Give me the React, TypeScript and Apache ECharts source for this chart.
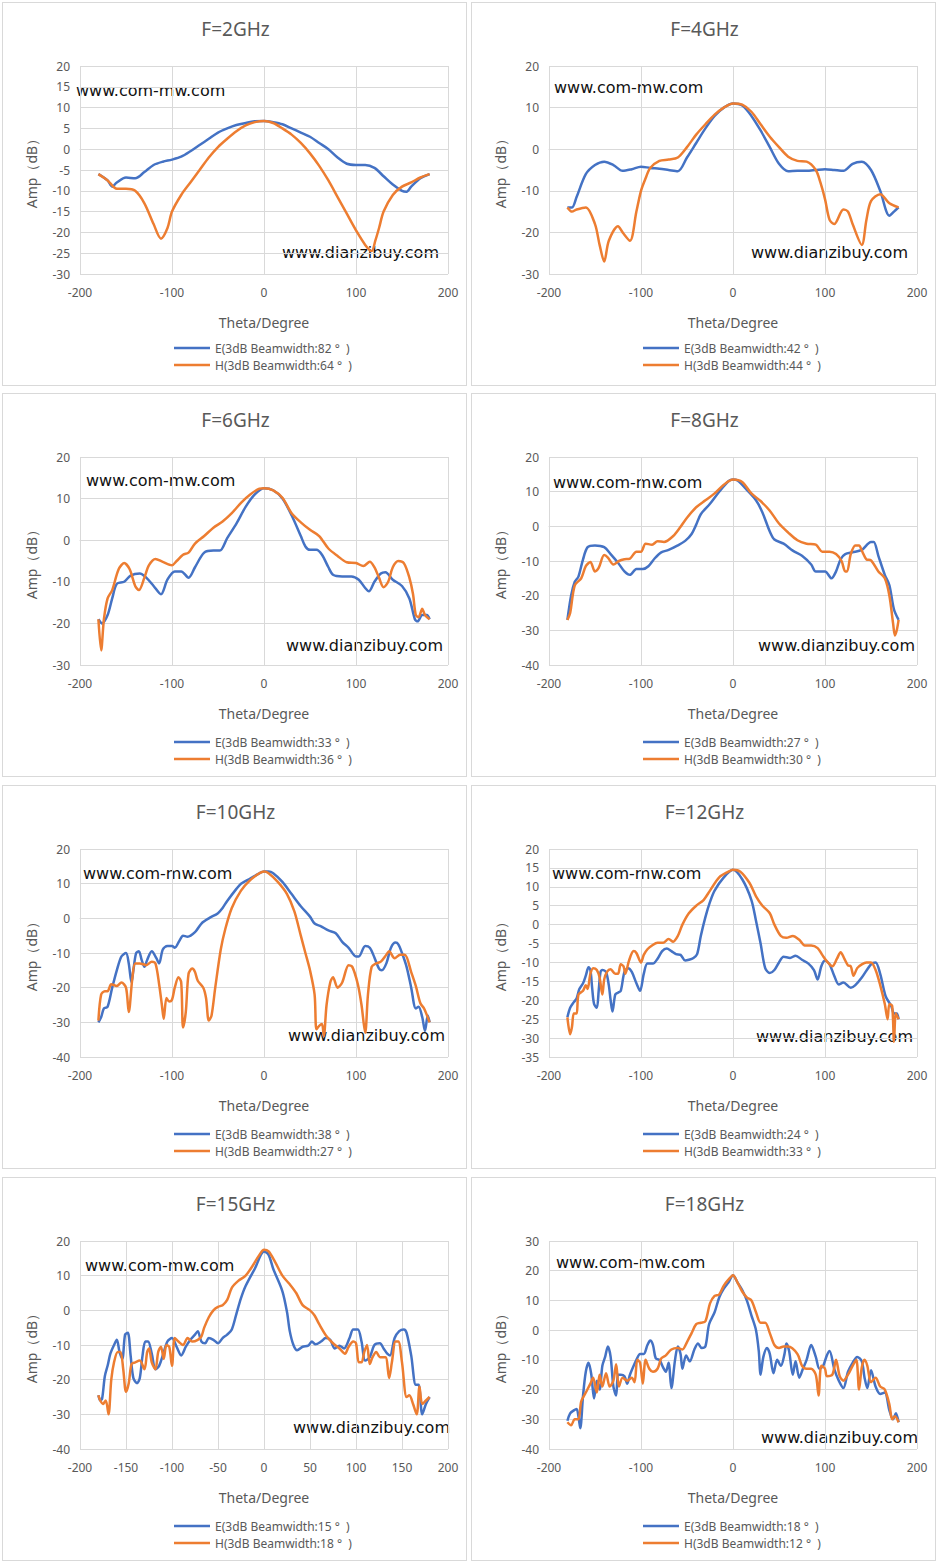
import React, { useEffect, useRef } from 'react';
import * as echarts from 'echarts';

type Pt = [number, number];

const freqs = ['F=2GHz', 'F=4GHz', 'F=6GHz', 'F=8GHz', 'F=10GHz', 'F=12GHz', 'F=15GHz', 'F=18GHz'];
const eWidths = [82, 42, 33, 27, 38, 24, 15, 18];
const hWidths = [64, 44, 36, 30, 27, 33, 18, 12];
const yMins = [-30, -30, -30, -40, -40, -35, -40, -40];
const yMaxs = [20, 20, 20, 20, 20, 20, 20, 30];
const yIntervals = [5, 10, 10, 10, 10, 5, 10, 10];
const xIntervals = [100, 100, 100, 100, 100, 100, 50, 100];

const e2: Pt[] = [[-180,-6],[-170,-7.5],[-165,-9],[-160,-8],[-150,-6.8],[-140,-7],[-130,-5.5],[-120,-3.8],[-110,-3],[-100,-2.5],[-90,-1.8],[-80,-0.5],[-70,1],[-60,2.5],[-50,4],[-40,5],[-30,5.8],[-20,6.3],[-10,6.7],[0,6.8],[10,6.5],[20,6],[30,5],[40,4],[50,3],[60,1.5],[70,0],[80,-2],[90,-3.5],[100,-3.8],[110,-3.8],[120,-4.5],[130,-6.5],[140,-8.5],[150,-10],[155,-10.2],[160,-9],[170,-7],[180,-6]];
const h2: Pt[] = [[-180,-6],[-170,-7.5],[-160,-9.5],[-150,-9.5],[-140,-10],[-130,-13],[-120,-18],[-112,-21.5],[-105,-19],[-100,-15],[-90,-11],[-80,-8],[-70,-5],[-60,-2],[-50,0.5],[-40,2.5],[-30,4.3],[-20,5.7],[-10,6.5],[0,6.8],[10,6.3],[20,5],[30,3.5],[40,1.5],[50,-1],[60,-4],[70,-7.5],[80,-11.5],[90,-15.5],[100,-19.5],[110,-23],[117,-24.5],[121,-22],[125,-19],[130,-15],[140,-11],[150,-9],[160,-8],[170,-6.8],[180,-6]];
const e4: Pt[] = [[-180,-14],[-175,-14],[-170,-11.5],[-160,-6],[-150,-3.8],[-140,-3],[-130,-3.8],[-120,-5.2],[-110,-4.8],[-100,-4.2],[-90,-4.5],[-80,-4.7],[-70,-5],[-60,-5.3],[-50,-2],[-40,1.5],[-30,5],[-20,8],[-10,10],[0,11],[10,10.5],[20,8],[30,4.5],[40,0.5],[50,-3.5],[60,-5.3],[70,-5.2],[80,-5.2],[90,-5],[100,-4.8],[110,-5],[120,-5.2],[130,-3.5],[140,-3],[150,-5],[160,-10],[170,-16],[175,-15],[180,-14]];
const h4: Pt[] = [[-180,-14],[-175,-15],[-170,-14.5],[-160,-14],[-150,-18],[-145,-23],[-140,-27],[-135,-22],[-125,-18.5],[-120,-20],[-112,-22],[-105,-15],[-100,-10],[-95,-7],[-90,-4.5],[-80,-2.8],[-70,-2.5],[-60,-2],[-50,0.5],[-40,3.5],[-30,6],[-20,8.3],[-10,10],[0,11],[10,10.7],[20,9],[30,6],[40,3],[50,0.5],[60,-1.8],[70,-2.8],[80,-3],[90,-5],[95,-8],[100,-12],[105,-17],[110,-18],[120,-14.5],[125,-15],[130,-18],[140,-23],[145,-17],[150,-12.5],[160,-10.8],[170,-13],[180,-14]];
const e6: Pt[] = [[-180,-19],[-176,-20],[-170,-18],[-165,-14],[-160,-10.5],[-152,-10],[-145,-8.5],[-135,-8],[-128,-9],[-120,-11],[-112,-13],[-105,-9.5],[-97,-7.5],[-90,-7.5],[-82,-9],[-75,-6.5],[-65,-3],[-55,-2.5],[-48,-2.5],[-40,0.5],[-30,4],[-20,8],[-10,11],[0,12.5],[10,12],[20,10],[30,6],[40,1],[45,-1.5],[50,-2.3],[57,-2.3],[63,-3.5],[70,-6.5],[75,-8.3],[85,-8.7],[95,-8.7],[103,-9.5],[110,-11.5],[114,-12.3],[120,-10],[127,-8],[132,-7.7],[140,-9.5],[150,-11],[158,-14],[164,-19],[167,-19.5],[172,-18],[177,-18],[180,-19]];
const h6: Pt[] = [[-180,-19],[-177,-26.5],[-174,-19],[-170,-14],[-165,-12],[-158,-7],[-152,-5.5],[-146,-7],[-140,-11],[-136,-12],[-130,-9],[-125,-6],[-118,-4.5],[-110,-5.2],[-100,-6],[-95,-5],[-88,-3.5],[-82,-3],[-75,-0.8],[-65,1],[-55,3],[-45,4.5],[-35,6.5],[-25,9],[-15,11],[-5,12.4],[0,12.5],[10,12],[20,10.2],[30,6.5],[40,4.3],[50,2.5],[60,1],[70,-2],[80,-3.8],[90,-5.3],[100,-5.5],[108,-6.2],[115,-5.2],[120,-6.5],[125,-9],[130,-11.3],[135,-10],[140,-6.5],[146,-5],[152,-5.5],[158,-9],[162,-13],[165,-18],[168,-18.5],[172,-16.5],[175,-18],[180,-19]];
const e8: Pt[] = [[-180,-27],[-176,-20],[-172,-16],[-168,-14.5],[-163,-9.5],[-158,-6],[-150,-5.5],[-140,-6],[-133,-8],[-125,-10.5],[-118,-13],[-112,-14],[-105,-12.3],[-98,-12.3],[-92,-11.5],[-85,-9.2],[-78,-7.5],[-70,-6.8],[-60,-5.5],[-52,-4.2],[-45,-2.2],[-40,0.5],[-35,3.5],[-25,6.5],[-15,10],[-5,13],[0,13.5],[5,13.2],[15,10.5],[25,7.5],[32,4],[40,-1.5],[45,-3.8],[55,-5],[65,-7],[75,-8.5],[85,-11],[90,-13],[100,-13],[107,-15],[112,-13],[117,-9.5],[122,-8],[130,-7.5],[140,-6.8],[150,-4.5],[153,-4.5],[158,-8.5],[165,-14],[170,-17],[175,-24],[180,-27]];
const h8: Pt[] = [[-180,-27],[-177,-25],[-172,-17],[-165,-15],[-160,-11.5],[-155,-10.3],[-150,-13],[-146,-12],[-140,-8.3],[-136,-9],[-130,-11],[-124,-10],[-118,-9.5],[-112,-9.3],[-105,-7.3],[-100,-7.3],[-95,-5],[-88,-5.3],[-82,-4.3],[-75,-4.5],[-65,-2.8],[-58,-0.5],[-50,2.5],[-40,5.5],[-30,7.5],[-20,9.5],[-10,12],[0,13.5],[10,12.8],[20,9.5],[30,7.3],[40,4.5],[50,0.8],[60,-1.8],[70,-4],[80,-5],[90,-5.3],[97,-7.3],[105,-7.3],[112,-8],[118,-10],[122,-13],[124,-13],[128,-8],[133,-5.5],[137,-5.5],[140,-7],[145,-9.5],[150,-9.8],[158,-13],[165,-15],[170,-20],[174,-28],[176,-31.5],[178,-30],[180,-27]];
const e10: Pt[] = [[-180,-30],[-177,-28.5],[-174,-26],[-170,-25.5],[-165,-20],[-160,-15],[-155,-11],[-150,-10],[-147,-13],[-144,-18.5],[-142,-15],[-139,-10],[-136,-9.5],[-133,-12],[-130,-14],[-127,-12],[-122,-9.5],[-117,-11.5],[-114,-13],[-110,-9],[-105,-8],[-100,-8],[-97,-8.5],[-92,-6.5],[-88,-5],[-83,-5.3],[-75,-4],[-68,-1.5],[-60,0],[-50,1.5],[-45,3],[-40,5],[-30,8.5],[-25,10],[-15,11.5],[-5,13],[0,13.5],[5,13.5],[10,13],[20,10.5],[30,7],[40,3.5],[50,0.5],[55,-1.5],[62,-2.3],[70,-3.5],[78,-4.3],[85,-6.8],[92,-8.5],[100,-11],[103,-11],[110,-8],[115,-8.5],[120,-11.3],[125,-14.5],[128,-15],[133,-13],[138,-8.5],[143,-7],[146,-7.5],[150,-10],[155,-14],[160,-20],[165,-26],[168,-25.5],[172,-28.5],[175,-32.5],[178,-28],[180,-30]];
const h10: Pt[] = [[-180,-29.5],[-177,-22],[-173,-21],[-170,-21],[-166,-19],[-160,-19.5],[-155,-18.5],[-150,-20],[-147,-27],[-143,-17],[-140,-13],[-135,-13],[-128,-13.5],[-122,-12.5],[-118,-13],[-114,-19],[-111,-25],[-109,-29],[-106,-23],[-103,-24],[-100,-23.5],[-97,-20],[-93,-17],[-90,-18.5],[-88,-31.5],[-85,-27],[-82,-16],[-78,-14.5],[-75,-15.5],[-72,-18],[-66,-20],[-63,-23],[-60,-29.5],[-57,-28],[-53,-20],[-47,-9],[-42,-3],[-35,3],[-25,8],[-15,11],[-5,13],[0,13.5],[5,13],[15,10.5],[25,7],[33,2],[40,-5],[45,-10],[50,-15],[55,-22],[57,-32],[60,-31],[63,-30.5],[65,-34],[68,-25],[72,-18.5],[75,-17],[80,-20],[85,-18.5],[92,-13.5],[96,-14],[102,-19],[106,-25],[110,-33],[113,-22],[117,-14],[122,-13],[127,-12.5],[133,-10.5],[136,-9.5],[142,-11.5],[148,-10.5],[153,-10.5],[160,-15.5],[165,-19.5],[170,-24.5],[174,-26],[180,-30]];
const e12: Pt[] = [[-180,-24.5],[-177,-22],[-173,-20.5],[-170,-19.5],[-167,-17],[-163,-15.5],[-160,-13.5],[-157,-11.3],[-155,-12],[-153,-17],[-151,-21],[-148,-22],[-146,-17.5],[-144,-12.5],[-142,-12],[-138,-12.5],[-135,-16],[-133,-20],[-131,-23],[-128,-18.5],[-125,-18],[-122,-17.5],[-118,-12.5],[-114,-11.5],[-110,-12.5],[-105,-15.5],[-101,-17.5],[-97,-13],[-93,-10.3],[-87,-10.3],[-82,-9],[-77,-7],[-72,-6.3],[-67,-7],[-62,-7.8],[-57,-8],[-52,-9.5],[-48,-9.3],[-43,-8.8],[-39,-7.8],[-35,-3],[-30,2],[-25,6],[-20,9],[-10,12.5],[0,14.5],[10,12],[20,6.5],[25,1],[30,-5],[35,-11.5],[40,-12.8],[45,-12],[50,-10],[55,-8.5],[62,-8.8],[68,-8.2],[75,-9.3],[82,-10.3],[88,-12],[92,-14.5],[96,-11],[100,-9.5],[105,-10.5],[110,-13.5],[115,-15.8],[120,-15.3],[128,-16.7],[133,-16],[140,-14],[150,-10.5],[155,-10],[160,-13],[166,-19],[172,-21.5],[175,-23.5],[178,-23.5],[180,-25]];
const h12: Pt[] = [[-180,-24.5],[-177,-29],[-175,-27],[-173,-23.5],[-170,-23.5],[-168,-18.5],[-163,-17.5],[-160,-16],[-158,-17],[-155,-13],[-152,-11.5],[-148,-12],[-145,-14],[-142,-18.5],[-140,-14.5],[-137,-12.5],[-133,-11.8],[-128,-13],[-125,-13],[-122,-10.5],[-119,-11],[-117,-13],[-113,-9.5],[-108,-7],[-105,-7.5],[-100,-10],[-97,-8],[-93,-6.5],[-88,-5.5],[-82,-4.8],[-76,-4.8],[-70,-3.8],[-65,-4.5],[-60,-3],[-55,0],[-48,3],[-40,5],[-32,6.5],[-25,9],[-15,12.5],[-5,14],[0,14.5],[8,14],[18,11],[25,7.5],[32,5],[40,3],[45,0],[52,-3],[58,-3.5],[65,-3],[72,-4],[78,-5.5],[85,-5.5],[92,-6.2],[97,-8],[103,-10],[108,-11],[113,-9],[117,-7.3],[121,-9],[125,-10.8],[128,-11],[131,-13.5],[135,-11.5],[140,-10.5],[145,-10],[150,-10],[155,-12],[160,-16],[165,-21],[168,-25],[170,-21],[173,-21.5],[175,-31],[177,-23.5],[180,-25]];
const e15: Pt[] = [[-180,-24.5],[-178,-26],[-176,-25.5],[-173,-19],[-170,-16],[-167,-12.5],[-163,-10],[-160,-8.5],[-157,-12],[-154,-14],[-151,-7],[-148,-6.5],[-145,-13],[-142,-19.5],[-138,-21],[-135,-19.5],[-132,-13],[-129,-9],[-126,-9],[-122,-12.5],[-118,-17],[-114,-16],[-110,-13],[-105,-9],[-100,-8],[-95,-10.5],[-90,-13],[-85,-10.5],[-80,-8.5],[-75,-7],[-72,-6],[-68,-9],[-64,-9.5],[-60,-8],[-55,-8.5],[-50,-9.5],[-45,-8],[-40,-7],[-35,-5.5],[-30,-1],[-25,3.5],[-20,7],[-10,12],[0,17],[5,16],[10,12],[20,5.5],[25,-0.5],[28,-6],[32,-10],[36,-11.5],[42,-10.5],[48,-10.2],[52,-9],[56,-9.8],[62,-9],[67,-8],[72,-8.5],[77,-11],[82,-10.2],[87,-11],[93,-8],[97,-5.5],[102,-5.5],[106,-9],[110,-14.5],[115,-13.5],[120,-10],[126,-9.5],[130,-11],[134,-12.5],[137,-13],[142,-8],[147,-6],[152,-5.5],[155,-6.5],[160,-13],[165,-21.5],[168,-21.5],[172,-30],[176,-27],[180,-25]];
const h15: Pt[] = [[-180,-24.5],[-178,-26],[-175,-27],[-172,-26],[-169,-30],[-166,-20],[-163,-15],[-159,-12],[-156,-12],[-153,-17],[-150,-23.5],[-147,-21],[-144,-15.5],[-140,-15],[-135,-14.5],[-130,-17],[-127,-12],[-125,-11],[-122,-15],[-118,-17],[-115,-12],[-112,-10.5],[-109,-14],[-106,-10],[-103,-10.5],[-100,-16],[-97,-8],[-93,-9],[-88,-10],[-83,-8],[-78,-9],[-72,-8.5],[-68,-7.5],[-65,-5],[-60,-2],[-55,0],[-50,1],[-45,1.5],[-40,3],[-35,6.5],[-28,8.5],[-20,10],[-12,13],[-5,16],[0,17.5],[5,17],[12,14],[20,10],[28,7.5],[35,5],[42,1.5],[50,0],[55,-1.5],[60,-4],[68,-7.5],[75,-9.5],[82,-11],[88,-12.5],[92,-10.5],[97,-9],[100,-9.5],[103,-15],[106,-15],[109,-12],[112,-10],[115,-15.5],[118,-13.5],[122,-12],[126,-13.5],[132,-13.5],[136,-19.5],[139,-15],[143,-9],[146,-9],[150,-15],[155,-25],[158,-24.5],[162,-27],[166,-30],[169,-22],[172,-27],[176,-26],[180,-25]];
const e18: Pt[] = [[-180,-30.5],[-177,-28],[-173,-27],[-170,-26.5],[-168,-29],[-166,-33],[-163,-22],[-160,-14],[-157,-11],[-154,-15],[-151,-23],[-148,-17],[-145,-20],[-142,-12],[-139,-9],[-136,-5.5],[-133,-9],[-130,-19],[-127,-22],[-125,-15],[-122,-15],[-118,-15.5],[-115,-18],[-112,-15],[-108,-12],[-105,-10],[-101,-8],[-97,-8],[-93,-5],[-90,-3.5],[-87,-5],[-84,-9.5],[-80,-10],[-76,-12.5],[-73,-14],[-70,-11],[-67,-19.5],[-63,-10],[-60,-5.5],[-57,-8],[-55,-13],[-51,-8.5],[-47,-10.5],[-42,-6.5],[-38,-4.5],[-34,-6],[-30,-5.5],[-26,2],[-20,6],[-15,11],[-10,14],[-5,16],[0,18.5],[5,16],[10,13.5],[15,10],[20,5],[25,0],[28,-7],[30,-15],[33,-9],[37,-6],[40,-8],[44,-14.5],[48,-10],[52,-12],[56,-8],[58,-4.5],[61,-7],[65,-15],[68,-10.5],[72,-16],[76,-13],[80,-10],[85,-5],[90,-9],[94,-13],[98,-12],[102,-8.5],[105,-7],[110,-13],[115,-17],[120,-19.5],[125,-14],[130,-11],[135,-9],[140,-10.5],[143,-16],[146,-19.5],[150,-13.5],[155,-19],[160,-21.5],[165,-21],[170,-27],[174,-30],[177,-28],[180,-31]];
const h18: Pt[] = [[-180,-31],[-176,-32],[-172,-30],[-168,-30],[-165,-24],[-160,-21],[-155,-18],[-152,-16],[-148,-21],[-145,-15],[-142,-19],[-138,-14.5],[-134,-19],[-130,-17],[-127,-11.5],[-124,-19],[-120,-16],[-115,-17],[-110,-16],[-107,-17.5],[-104,-10],[-101,-11],[-98,-18],[-95,-10],[-91,-13],[-87,-14],[-82,-13],[-78,-9.5],[-73,-8.5],[-67,-6.5],[-60,-6],[-55,-6.5],[-50,-4],[-45,-1],[-40,2],[-35,2.5],[-30,3],[-25,9],[-20,11.5],[-15,12],[-10,15],[-5,17],[0,18.5],[5,16],[10,13],[15,11],[20,10],[25,6],[30,2.5],[35,2.5],[40,-1],[45,-5],[50,-6],[55,-5.5],[60,-5.5],[70,-8],[75,-12],[80,-13],[85,-13],[90,-15],[93,-22],[96,-12],[100,-13],[102,-15.5],[108,-15],[112,-10],[116,-15.5],[120,-17],[125,-15],[130,-12],[134,-10],[137,-20],[140,-12.5],[143,-10],[146,-12],[150,-17.5],[155,-16],[160,-19],[165,-20],[170,-25],[173,-30],[176,-29],[180,-31]];

const eSeries = [e2, e4, e6, e8, e10, e12, e15, e18];
const hSeries = [h2, h4, h6, h8, h10, h12, h15, h18];

// watermark positions inside each panel: [left text x, y, right text end x, y]
const marks = [
  [73, 87, 436, 249], [82, 84, 436, 249], [83, 86, 440, 251], [81, 88, 443, 251],
  [80, 87, 442, 249], [80, 87, 441, 250], [82, 87, 447, 249], [84, 84, 446, 259],
];
const panelLefts = [2, 471];
const panelTops = [2, 393, 785, 1177];

const grey = '#595959';

const Panel: React.FC<{ i: number }> = ({ i }) => {
  const ref = useRef<HTMLDivElement>(null);

  useEffect(() => {
    if (!ref.current) return;
    const chart = echarts.init(ref.current, null, { renderer: 'svg' });
    const m = marks[i];
    const E = 'E(3dB Beamwidth:' + eWidths[i] + ' °  )';
    const H = 'H(3dB Beamwidth:' + hWidths[i] + ' °  )';
    chart.setOption({
      animation: false,
      textStyle: { fontFamily: 'Noto Sans' },
      title: {
        text: freqs[i],
        left: 'center',
        top: 11,
        textStyle: { fontSize: 19, fontWeight: 'normal', color: grey, fontFamily: 'Noto Sans' },
      },
      grid: { left: 77, right: 20, top: 63, height: 208 },
      legend: {
        orient: 'vertical',
        left: 166,
        top: i < 2 ? 334 : 337,
        itemWidth: 36,
        itemHeight: 14,
        itemGap: 5,
        icon: 'path://M0,6 L36,6 L36,8.5 L0,8.5 Z',
        textStyle: { fontSize: 12, color: grey },
        data: [E, H],
      },
      xAxis: {
        type: 'value',
        min: -200,
        max: 200,
        interval: xIntervals[i],
        name: 'Theta/Degree',
        nameLocation: 'middle',
        nameGap: 41,
        nameTextStyle: { fontSize: 14, color: grey },
        axisLine: { lineStyle: { color: '#d9d9d9' } },
        axisTick: { show: false },
        axisLabel: { color: grey, fontSize: 12, margin: 12 },
        splitLine: { lineStyle: { color: '#d9d9d9' } },
      },
      yAxis: {
        type: 'value',
        min: yMins[i],
        max: yMaxs[i],
        interval: yIntervals[i],
        name: 'Amp（dB）',
        nameLocation: 'middle',
        nameGap: 42,
        nameTextStyle: { fontSize: 14, color: grey },
        axisLine: { show: false },
        axisTick: { show: false },
        axisLabel: { color: grey, fontSize: 12, margin: 10 },
        splitLine: { lineStyle: { color: '#d9d9d9' } },
      },
      graphic: [
        {
          type: 'text', x: m[0], y: m[1],
          style: { text: 'www.com-mw.com', fill: '#111', font: '16px "DejaVu Sans"', textVerticalAlign: 'middle' },
        },
        {
          type: 'text', x: m[2], y: m[3],
          style: { text: 'www.dianzibuy.com', fill: '#111', font: '16px "DejaVu Sans"', textAlign: 'right', textVerticalAlign: 'middle' },
        },
      ],
      series: [
        { name: E, type: 'line', data: eSeries[i], smooth: 0.3, showSymbol: false, lineStyle: { width: 2.5, color: '#4472c4' }, itemStyle: { color: '#4472c4' } },
        { name: H, type: 'line', data: hSeries[i], smooth: 0.3, showSymbol: false, lineStyle: { width: 2.5, color: '#ed7d31' }, itemStyle: { color: '#ed7d31' } },
      ],
    });
    return () => chart.dispose();
  }, [i]);

  return (
    <div
      style={{
        position: 'absolute',
        left: panelLefts[i % 2],
        top: panelTops[Math.floor(i / 2)],
        width: 465,
        height: 384,
        border: '1px solid #d9d9d9',
        boxSizing: 'border-box',
        background: '#fff',
      }}
    >
      <div ref={ref} style={{ width: 465, height: 384 }} />
    </div>
  );
};

export default function App() {
  useEffect(() => {
    document.body.style.margin = '0';
  }, []);
  return (
    <div style={{ position: 'relative', width: 939, height: 1563, background: '#fff' }}>
      {freqs.map((_, i) => (
        <Panel key={i} i={i} />
      ))}
    </div>
  );
}
